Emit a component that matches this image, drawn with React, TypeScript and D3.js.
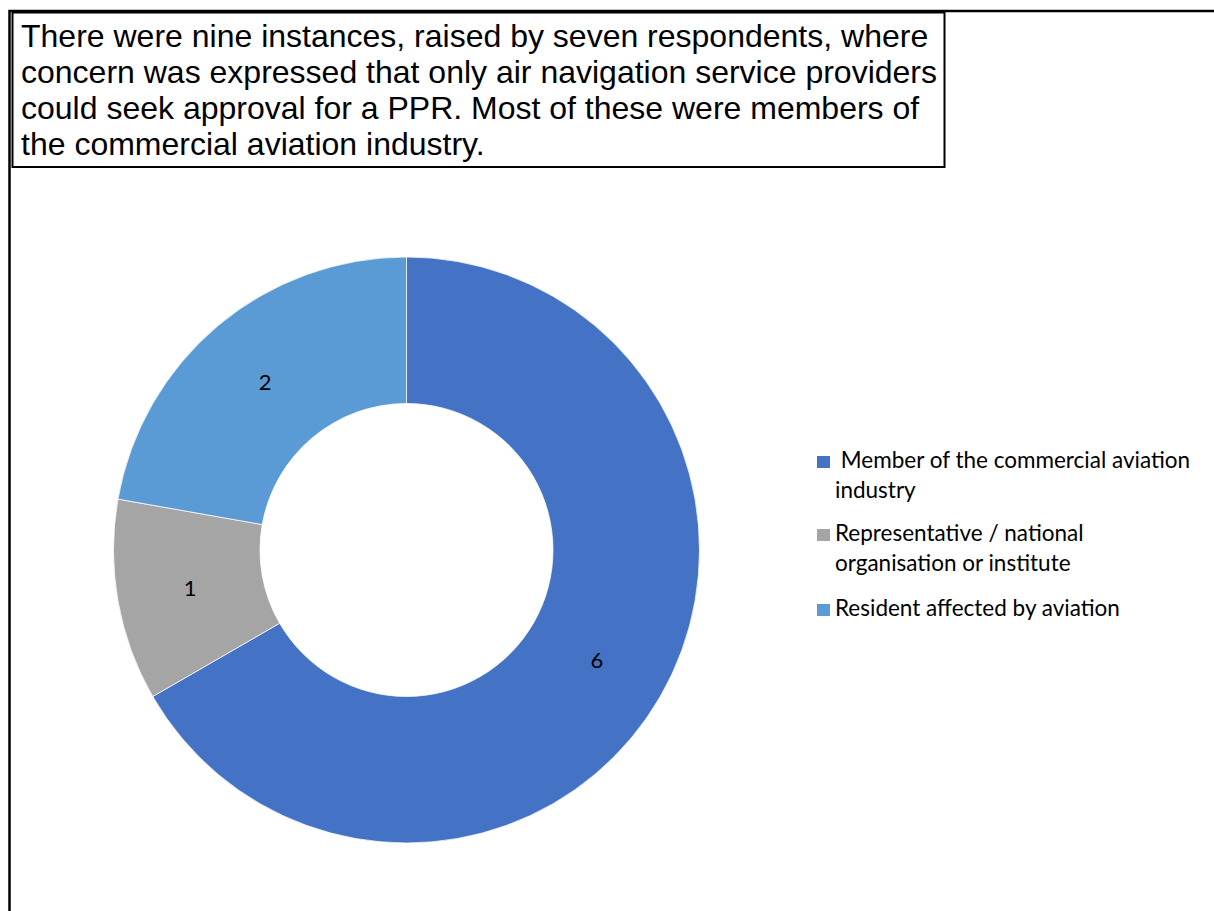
import React, { useEffect, useRef } from 'react';
import * as d3 from 'd3';

// Chart data
const categories = [
    'Member of the commercial aviation industry',
    'Representative / national organisation or institute',
    'Resident affected by aviation',
];
const legendLines = [
    [' Member of the commercial aviation', 'industry'],
    ['Representative / national', 'organisation or institute'],
    ['Resident affected by aviation'],
];
const counts = [6, 1, 2];
const colors = ['#4472C4', '#A5A5A5', '#5B9BD5'];
const titleLines = [
    'There were nine instances, raised by seven respondents, where',
    'concern was expressed that only air navigation service providers',
    'could seek approval for a PPR. Most of these were members of',
    'the commercial aviation industry.',
];

const App: React.FC = () => {
    const svgRef = useRef<SVGSVGElement>(null);

    useEffect(() => {
        if (!svgRef.current) return;
        const svg = d3.select(svgRef.current);
        svg.selectAll('*').remove();

        const width = 1214;
        const height = 911;
        const cx = 406.5;
        const cy = 550;
        const outerR = 293;
        const innerR = 146.5;

        // Outer frame (top and left edges visible)
        svg.append('path')
            .attr('d', `M9.5,${height} V11 H${width}`)
            .attr('fill', 'none')
            .attr('stroke', '#000')
            .attr('stroke-width', 2.5);

        // Title box
        svg.append('rect')
            .attr('x', 12.5)
            .attr('y', 12.5)
            .attr('width', 944.5 - 12.5)
            .attr('height', 167 - 12.5)
            .attr('fill', '#fff')
            .attr('stroke', '#000')
            .attr('stroke-width', 2);

        const title = svg.append('text')
            .attr('font-family', '"Liberation Sans", Arial, sans-serif')
            .attr('font-size', 32)
            .attr('fill', '#000');
        titleLines.forEach((line, i) => {
            title.append('tspan')
                .attr('x', 21)
                .attr('y', 47 + i * 36)
                .text(line);
        });

        // Donut
        const pie = d3.pie<number>().sort(null).value((d) => d);
        const arcs = pie(counts);
        const arc = d3.arc<d3.PieArcDatum<number>>()
            .innerRadius(innerR)
            .outerRadius(outerR);

        const g = svg.append('g').attr('transform', `translate(${cx},${cy})`);
        g.selectAll('path.slice')
            .data(arcs)
            .enter()
            .append('path')
            .attr('class', 'slice')
            .attr('d', arc)
            .attr('fill', (_d, i) => colors[i])
            .attr('stroke', '#fff')
            .attr('stroke-width', 0.75);

        g.selectAll('text.label')
            .data(arcs)
            .enter()
            .append('text')
            .attr('class', 'label')
            .attr('transform', (d) => `translate(${arc.centroid(d)})`)
            .attr('text-anchor', 'middle')
            .attr('dy', '0.36em')
            .attr('font-family', 'Lato, "Open Sans", sans-serif')
            .attr('font-size', 22)
            .attr('fill', '#000')
            .text((d) => String(d.data));

        // Legend
        const legendY = [456, 529, 604];
        const legend = svg.append('g');
        categories.forEach((cat, i) => {
            const item = legend.append('g').attr('data-name', cat);
            item.append('rect')
                .attr('x', 817)
                .attr('y', legendY[i])
                .attr('width', 13)
                .attr('height', 12)
                .attr('fill', colors[i]);
            const t = item.append('text')
                .attr('font-family', 'Lato, "Open Sans", sans-serif')
                .attr('font-size', 22.5)
                .attr('fill', '#000')
                .attr('xml:space', 'preserve');
            legendLines[i].forEach((line, j) => {
                t.append('tspan')
                    .attr('x', 835)
                    .attr('y', legendY[i] + 12 + j * 29.5)
                    .text(line);
            });
        });
    }, []);

    return (
        <svg
            ref={svgRef}
            width={1214}
            height={911}
            style={{ position: 'absolute', left: 0, top: 0, background: '#fff' }}
        />
    );
};

export default App;
